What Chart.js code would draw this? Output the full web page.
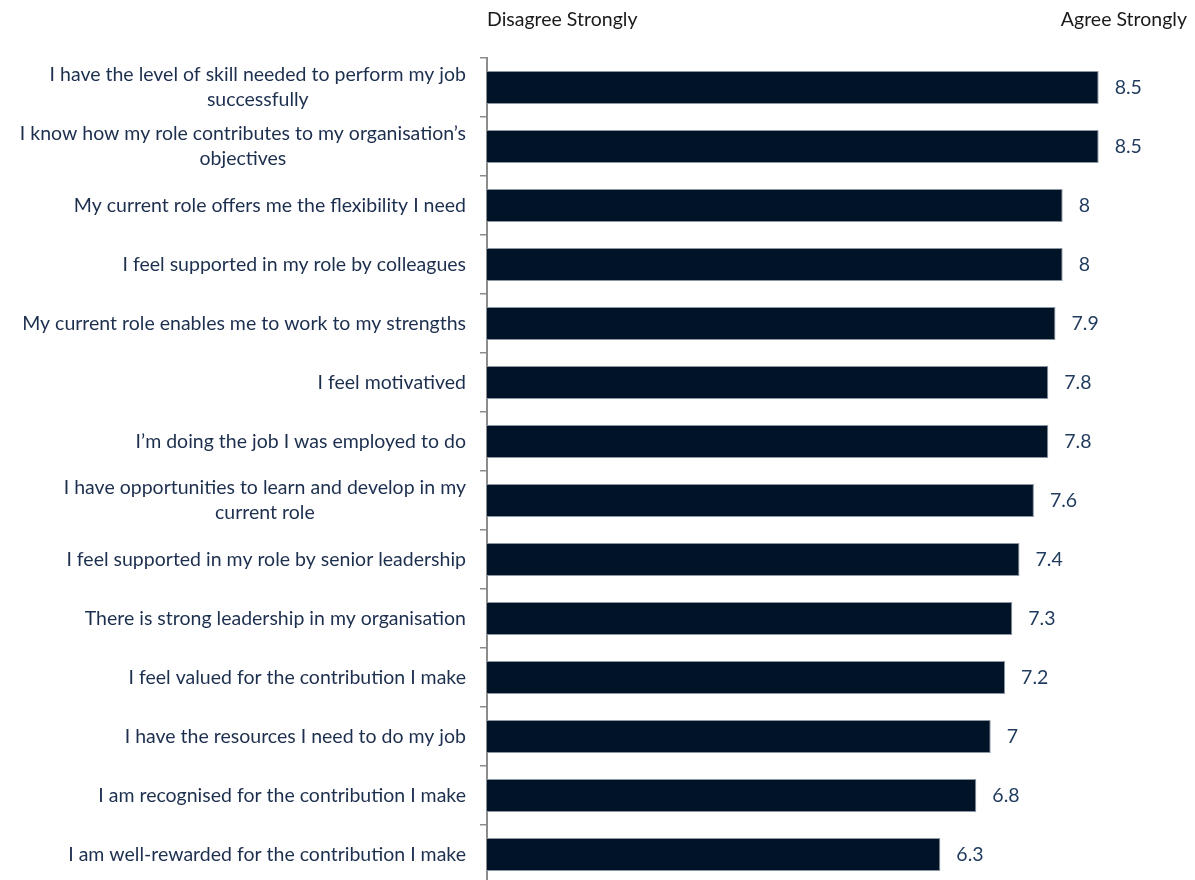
<!DOCTYPE html>
<html>
<head>
    <title>Employee Survey Scores</title>
    <script src="https://cdn.jsdelivr.net/npm/chart.js"></script>
    <style>
        body { margin: 0; background: #fff; overflow: hidden; }
        #wrap { position: relative; width: 1195px; height: 884px; }
    </style>
</head>
<body>
    <div id="wrap"><canvas id="myChart"></canvas></div>
    <script>
        // statements (multi-line ones are split into arrays)
        const statements = [
            ['I have the level of skill needed to perform my job', 'successfully'],
            ['I know how my role contributes to my organisation\u2019s', 'objectives'],
            'My current role offers me the flexibility I need',
            'I feel supported in my role by colleagues',
            'My current role enables me to work to my strengths',
            'I feel motivatived',
            'I\u2019m doing the job I was employed to do',
            ['I have opportunities to learn and develop in my', 'current role'],
            'I feel supported in my role by senior leadership',
            'There is strong leadership in my organisation',
            'I feel valued for the contribution I make',
            'I have the resources I need to do my job',
            'I am recognised for the contribution I make',
            'I am well-rewarded for the contribution I make'
        ];
        const scores = [8.5, 8.5, 8, 8, 7.9, 7.8, 7.8, 7.6, 7.4, 7.3, 7.2, 7, 6.8, 6.3];
        const scaleEnds = ['Disagree Strongly', 'Agree Strongly'];

        const FONT = 'Lato, "Open Sans", sans-serif';

        // draws statement text, value labels and the two scale-end captions
        const textPlugin = {
            id: 'surveyText',
            afterDraw(chart) {
                const ctx = chart.ctx;
                const yScale = chart.scales.y;
                const area = chart.chartArea;
                ctx.save();
                ctx.font = '19.5px ' + FONT;
                ctx.textBaseline = 'middle';

                // statements: block right-aligned to the axis, lines centred in the block
                ctx.fillStyle = '#1d2f4e';
                const rightEdge = area.left - 21;
                statements.forEach((s, i) => {
                    const lines = Array.isArray(s) ? s : [s];
                    const widest = Math.max(...lines.map(l => ctx.measureText(l).width));
                    const cx = rightEdge - widest / 2;
                    const yc = yScale.getPixelForTick(i);
                    const lh = 25;
                    ctx.textAlign = 'center';
                    lines.forEach((l, k) => {
                        ctx.fillText(l, cx, yc + (k - (lines.length - 1) / 2) * lh);
                    });
                });

                // values at the bar ends
                ctx.fillStyle = '#1f3a5c';
                ctx.textAlign = 'left';
                const meta = chart.getDatasetMeta(0);
                meta.data.forEach((bar, i) => {
                    ctx.fillText(String(scores[i]), bar.x + 16, bar.y);
                });

                // scale end captions
                ctx.fillStyle = '#1a1a1a';
                ctx.textAlign = 'left';
                ctx.fillText(scaleEnds[0], area.left, 20);
                ctx.textAlign = 'right';
                ctx.fillText(scaleEnds[1], chart.width - 8, 20);
                ctx.restore();
            }
        };

        const ctx = document.getElementById('myChart').getContext('2d');
        const myChart = new Chart(ctx, {
            type: 'bar',
            data: {
                labels: statements,
                datasets: [{
                    data: scores,
                    backgroundColor: '#011427',
                    borderColor: '#8d97a3',
                    borderWidth: 1,
                    borderSkipped: 'left',
                    barPercentage: 0.56,
                    categoryPercentage: 1
                }]
            },
            options: {
                indexAxis: 'y',
                responsive: true,
                maintainAspectRatio: false,
                animation: false,
                layout: { padding: { top: 58, right: 10, left: 0, bottom: 0 } },
                plugins: {
                    legend: { display: false },
                    tooltip: { enabled: false }
                },
                scales: {
                    x: {
                        display: false,
                        min: 0,
                        max: 9.7
                    },
                    y: {
                        afterFit(scale) { scale.width = 487; },
                        ticks: { display: false },
                        grid: {
                            offset: true,
                            drawOnChartArea: false,
                            drawTicks: true,
                            tickLength: 7,
                            tickColor: '#8c8c8c',
                            lineWidth: 1.5
                        },
                        border: { display: true, color: '#8c8c8c', width: 2 }
                    }
                }
            },
            plugins: [textPlugin]
        });
    </script>
</body>
</html>
